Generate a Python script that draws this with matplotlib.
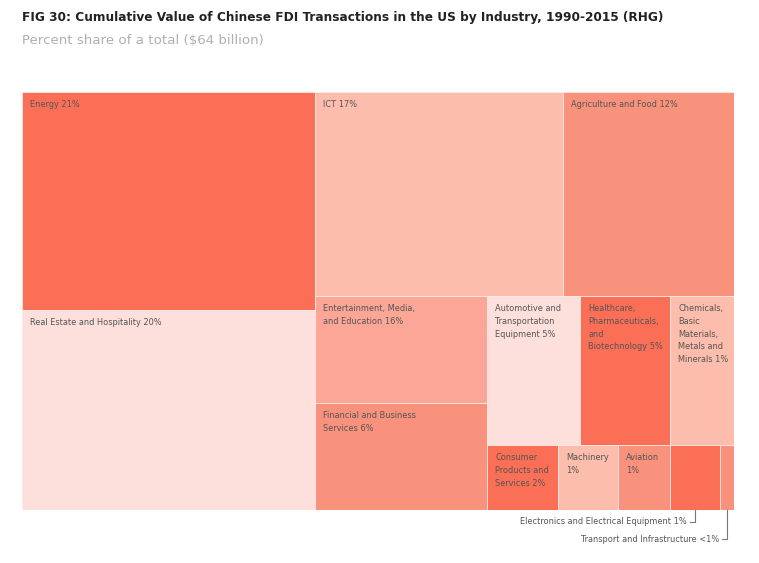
import matplotlib.pyplot as plt
from matplotlib.patches import Rectangle

# industries, percent share of $64 billion (read from block areas)
labels = [
    'Energy 21%',
    'Real Estate and Hospitality 20%',
    'ICT 17%',
    'Agriculture and Food 12%',
    'Entertainment, Media,\nand Education 16%',
    'Financial and Business\nServices 6%',
    'Automotive and\nTransportation\nEquipment 5%',
    'Healthcare,\nPharmaceuticals,\nand\nBiotechnology 5%',
    'Chemicals,\nBasic\nMaterials,\nMetals and\nMinerals 1%',
    'Consumer\nProducts and\nServices 2%',
    'Machinery\n1%',
    'Aviation\n1%',
    'Electronics and Electrical Equipment 1%',
    'Transport and Infrastructure <1%',
]
values = [21.5, 19.7, 17.0, 11.7, 6.2, 6.2, 4.65, 4.5, 3.2, 1.55, 1.3, 1.15, 1.1, 0.3]

strong = '#fb6f57'
medium = '#f9927c'
midlight = '#fba696'
light = '#fcbdad'
pale = '#fde0db'
colors = [strong, pale, light, medium, midlight, medium, pale, strong, light,
          strong, light, medium, strong, medium]

# nesting of the treemap: 'h' = side by side, 'v' = stacked
tree = ('h', [('v', [0, 1]),
              ('v', [('h', [2, 3]),
                     ('h', [('v', [4, 5]),
                            ('v', [('h', [6, 7, 8]),
                                   ('h', [9, 10, 11, 12, 13])])])])])
outside = [12, 13]  # labelled below the chart


def total(node):
    if isinstance(node, int):
        return values[node]
    return sum(total(c) for c in node[1])


def layout(node, x, y, w, h, out):
    if isinstance(node, int):
        out[node] = (x, y, w, h)
        return
    kind, kids = node
    s = total(node)
    for c in kids:
        f = total(c) / s
        if kind == 'h':
            layout(c, x, y, w * f, h, out)
            x += w * f
        else:
            layout(c, x, y, w, h * f, out)
            y += h * f


W, H = 712, 418
rects = {}
layout(tree, 0, 0, W, H, rects)

plt.rcParams['font.family'] = ['DejaVu Sans']
fig = plt.figure(figsize=(7.59, 5.63), dpi=100)
ax = fig.add_axes([22 / 759, 53 / 563, W / 759, H / 563])
ax.set_xlim(0, W)
ax.set_ylim(H, 0)
ax.axis('off')

for i, (x, y, w, h) in rects.items():
    ax.add_patch(Rectangle((x, y), w, h, facecolor=colors[i],
                           edgecolor='#fde8e4', linewidth=0.6))
    if i not in outside:
        ax.text(x + 8, y + 8, labels[i], fontsize=6.6, color='#555555',
                va='top', ha='left', linespacing=1.55, fontstretch='condensed')

# leader lines for the two tiny blocks
for i, drop in zip(outside, [12, 29]):
    x, y, w, h = rects[i]
    cx = x + w / 2
    ax.plot([cx, cx, cx - 5], [y + h, y + h + drop, y + h + drop],
            color='#777777', lw=0.8, clip_on=False)
    ax.text(cx - 8, y + h + drop, labels[i], fontsize=6.6, color='#555555',
            va='center', ha='right', fontstretch='condensed')

fig.text(22 / 759, 1 - 18 / 563, 'FIG 30: Cumulative Value of Chinese FDI Transactions in the US by Industry, 1990-2015 (RHG)',
         fontsize=9.7, fontweight='bold', color='#222222', va='center', fontstretch='condensed')
fig.text(22 / 759, 1 - 40 / 563, 'Percent share of a total ($64 billion)',
         fontsize=9.6, color='#b0b0b0', va='center')

fig.savefig('out.png', dpi=100, facecolor='white')
